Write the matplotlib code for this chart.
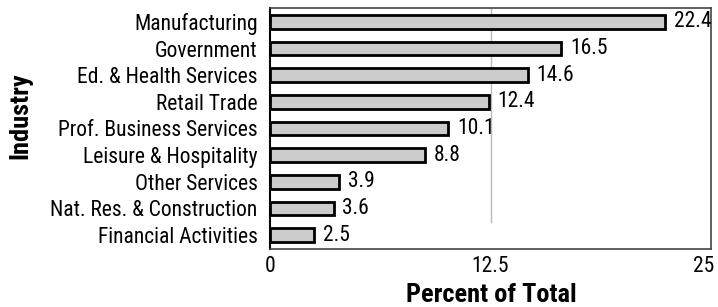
import matplotlib
matplotlib.use("Agg")
import matplotlib.pyplot as plt
from matplotlib import font_manager
from matplotlib.transforms import ScaledTranslation

names = {f.name for f in font_manager.fontManager.ttflist}
def pick(prefs):
    for p in prefs:
        if p in names:
            return p
    return "Liberation Sans"

body_font = pick(["Roboto Condensed", "Archivo Narrow", "PT Sans Narrow", "Liberation Sans Narrow",
                  "Sofia Sans Condensed", "Saira SemiCondensed"])
head_font = pick(["Roboto Condensed", "Archivo Narrow", "Oswald", "Sofia Sans Condensed"])

industries = ["Manufacturing", "Government", "Ed. & Health Services", "Retail Trade",
              "Prof. Business Services", "Leisure & Hospitality", "Other Services",
              "Nat. Res. & Construction", "Financial Activities"]
values = [22.4, 16.5, 14.6, 12.4, 10.1, 8.8, 3.9, 3.6, 2.5]
xticks = [0, 12.5, 25]
xticklabels = ["0", "12.5", "25"]

plt.rcParams['font.family'] = [body_font, 'DejaVu Sans']
FS = 15.5

fig = plt.figure(figsize=(7.18, 3.07), dpi=100)
ax = fig.add_axes([270/718, 1-249/307, (711-270)/718, (249-8)/307])

n = len(industries)
ypos = list(range(n - 1, -1, -1))
ax.barh(ypos, values, height=0.52, color="#cccccc", edgecolor="black", linewidth=2, zorder=3)
for y, v in zip(ypos, values):
    ax.text(v + 0.5, y, f"{v}", va="center", ha="left", fontsize=FS, zorder=4)

ax.set_xlim(0, 25)
ax.set_ylim(-0.52, n - 1 + 0.52)
ax.plot([12.5, 12.5], [0.5, n - 1 + 0.52], color="#bbbbbb", linewidth=1, zorder=1)

ax.set_yticks(ypos)
ax.set_yticklabels(industries, fontsize=FS)
ax.set_xticks(xticks)
ax.set_xticklabels(xticklabels, fontsize=FS)
ax.tick_params(axis='both', length=0)
ax.tick_params(axis='y', pad=9)
ax.tick_params(axis='x', pad=5)
last = ax.get_xticklabels()[-1]
last.set_transform(last.get_transform() + ScaledTranslation(-5/72, 0, fig.dpi_scale_trans))

for s in ["top", "right", "bottom"]:
    ax.spines[s].set_color("#444444")
    ax.spines[s].set_linewidth(1.2)
ax.spines["left"].set_color("black")
ax.spines["left"].set_linewidth(1.5)

fig.text(491/718, 1 - 302/307, "Percent of Total", fontsize=19, fontweight="black",
         family=[head_font, 'DejaVu Sans'], va="baseline", ha="center")
fig.text(20/718, 1 - 116/307, "Industry", rotation=90, fontsize=19, fontweight="black",
         family=[head_font, 'DejaVu Sans'], va="center", ha="center")

fig.savefig("out.png", dpi=100)
